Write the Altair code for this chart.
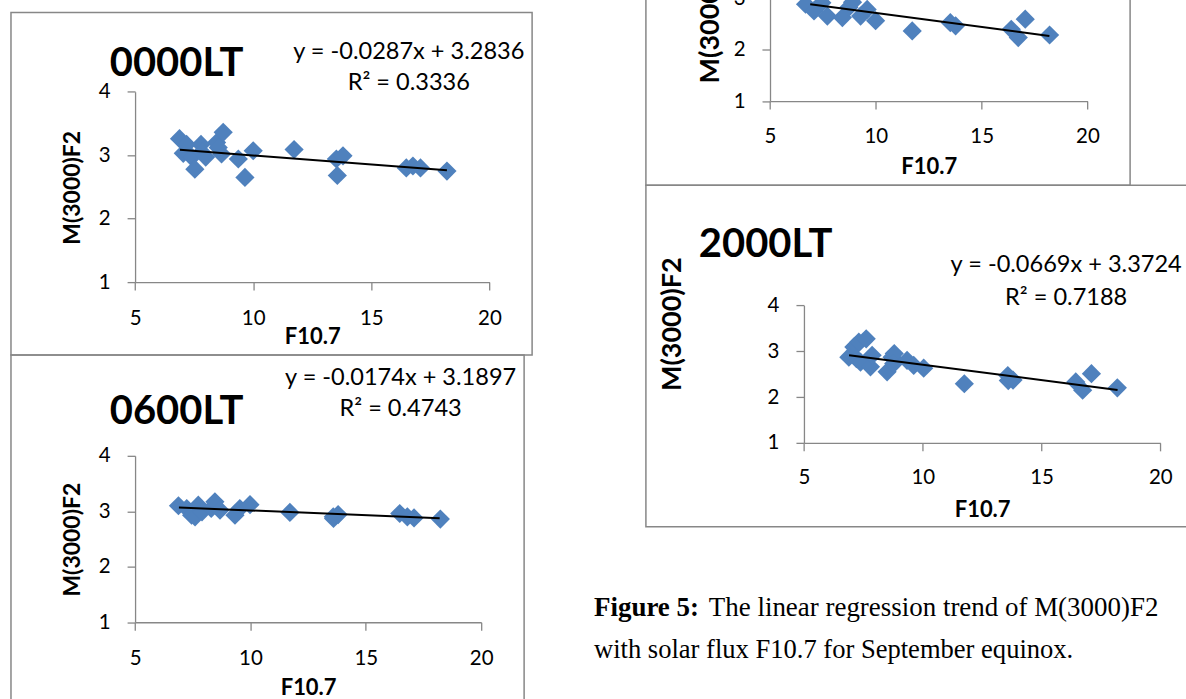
import altair as alt
import pandas as pd

# ---------------- data ----------------
# 0000LT
a_f107 = [6.88, 7.18, 7.04, 7.40, 7.53, 7.79, 7.82, 7.99, 8.45, 8.73, 8.66, 8.52,
          9.37, 9.65, 10.0, 11.73, 13.52, 13.80, 13.56, 16.48, 16.76, 17.08, 18.2]
a_m = [3.26, 3.17, 3.03, 2.97, 2.78, 3.17, 3.05, 2.97, 3.20, 3.36, 3.02, 3.12,
       2.94, 2.65, 3.07, 3.09, 2.94, 2.99, 2.68, 2.80, 2.83, 2.80, 2.75]
# 0600LT
b_f107 = [6.88, 7.24, 7.45, 7.60, 7.74, 7.90, 8.30, 8.46, 8.68, 9.33, 9.54, 9.98,
          11.71, 13.59, 13.60, 13.80, 16.47, 16.80, 17.09, 18.23]
b_m = [3.10, 3.05, 2.93, 2.90, 3.11, 2.99, 3.05, 3.17, 3.02, 2.93, 3.05, 3.12,
       2.98, 2.90, 2.87, 2.94, 2.96, 2.90, 2.88, 2.86]
# upper right panel (cut off at the top of the page)
c_f107 = [6.68, 7.08, 7.45, 7.71, 8.42, 8.73, 8.90, 9.28, 9.59, 9.99, 11.72,
          13.52, 13.77, 16.40, 16.73, 17.06, 18.21]
c_m = [2.89, 2.76, 2.92, 2.66, 2.63, 2.83, 2.93, 2.66, 2.79, 2.57, 2.37,
       2.53, 2.47, 2.40, 2.24, 2.60, 2.29]
# 2000LT
d_f107 = [6.89, 7.10, 7.20, 7.21, 7.31, 7.62, 7.38, 7.80, 7.87, 8.50, 8.71, 8.80,
          8.78, 9.34, 9.62, 10.04, 11.75, 13.58, 13.60, 13.80, 16.44, 16.73, 17.10, 18.19]
d_m = [2.87, 3.09, 3.13, 2.84, 3.20, 3.27, 2.76, 2.66, 2.91, 2.55, 2.87, 2.95,
       2.73, 2.80, 2.69, 2.63, 2.29, 2.47, 2.36, 2.37, 2.33, 2.15, 2.51, 2.20]

slopes = [-0.0287, -0.0174, -0.0547, -0.0669]
intercepts = [3.2836, 3.1897, 3.268, 3.3724]
trend_x = [6.9, 18.2]

titles = ["0000LT", "0600LT", "", "2000LT"]
equations = ["y = -0.0287x + 3.2836", "y = -0.0174x + 3.1897", "", "y = -0.0669x + 3.3724"]
r2_texts = ["R\u00b2 = 0.3336", "R\u00b2 = 0.4743", "", "R\u00b2 = 0.7188"]
x_ticks = [5, 10, 15, 20]
y_ticks = [1, 2, 3, 4]
x_title = "F10.7"
y_title = "M(3000)F2"
caption_bold = "Figure 5:"
caption_1 = "The linear regression trend of M(3000)F2"
caption_2 = "with solar flux F10.7 for September equinox."

BLUE = "#4F81BD"
GREY = "#878787"
FONT = "Lato"


def panel(i, xs, ys, w, h, xr, yr, lab_pad, xt_y, yt_x, yt_y, yt_size,
          title_xy=None, eq_xy=None):
    pts = pd.DataFrame({"F107": xs, "M": ys})
    ln = pd.DataFrame({"F107": trend_x})
    xs_ = alt.Scale(domain=[5, 20], range=xr, nice=False, zero=False)
    ys_ = alt.Scale(domain=[1, 4], range=yr, nice=False, zero=False)
    xax = alt.Axis(values=x_ticks, offset=yr[0] - h, grid=False,
                   labelPadding=lab_pad, labelBaseline="alphabetic",
                   labelFlush=False, labelOverlap=False,
                   labelFont=FONT, labelFontSize=20.5, labelColor="black",
                   domainColor=GREY, tickColor=GREY, domainWidth=1.3,
                   tickWidth=1.3, tickSize=8,
                   title=x_title, titleY=xt_y, titleBaseline="alphabetic",
                   titleFont=FONT, titleFontWeight="bold", titleColor="black",
                   titleFontSize=22)
    yax = alt.Axis(values=y_ticks, offset=-xr[0], grid=False,
                   labelPadding=17, labelFlush=False, labelOverlap=False,
                   labelFont=FONT, labelFontSize=20.5, labelColor="black",
                   domainColor=GREY, tickColor=GREY, domainWidth=1.3,
                   tickWidth=1.3, tickSize=8,
                   title=y_title, titleX=yt_x, titleY=yt_y, titleAngle=270,
                   titleAlign="center", titleBaseline="alphabetic",
                   titleFont=FONT, titleFontWeight="bold", titleColor="black",
                   titleFontSize=yt_size)
    enc = dict(x=alt.X("F107:Q", scale=xs_, axis=xax),
               y=alt.Y("M:Q", scale=ys_, axis=yax))
    points = alt.Chart(pts).mark_point(shape="diamond", filled=True, size=370,
                                       color=BLUE, opacity=1).encode(**enc)
    trend = alt.Chart(ln).transform_calculate(
        M=f"{slopes[i]} * datum.F107 + {intercepts[i]}"
    ).mark_line(color="black", strokeWidth=2).encode(**enc)
    layers = [points, trend]
    if title_xy is not None:
        layers.append(
            alt.Chart(pd.DataFrame({"t": [titles[i]]})).mark_text(
                align="left", baseline="alphabetic", font=FONT, fontWeight="bold",
                fontSize=40, color="black"
            ).encode(x=alt.value(title_xy[0]), y=alt.value(title_xy[1]), text="t:N"))
    if eq_xy is not None:
        for txt, yy in ((equations[i], eq_xy[1]), (r2_texts[i], eq_xy[2])):
            layers.append(
                alt.Chart(pd.DataFrame({"t": [txt]})).mark_text(
                    align="center", baseline="alphabetic", font=FONT,
                    fontSize=23.6, color="black"
                ).encode(x=alt.value(eq_xy[0]), y=alt.value(yy), text="t:N"))
    return alt.layer(*layers).properties(
        width=w, height=h, view=alt.ViewBackground(stroke=GREY, strokeWidth=1.5))


pA = panel(0, a_f107, a_m, 522, 343, [124.3, 479.3], [270, 79.3], 34.7, 61.7,
           -55.3, 175, 23, title_xy=(99, 63.3), eq_xy=(398.5, 46.7, 77.3))
pB = panel(1, b_f107, b_m, 514, 352, [124.3, 471], [267.7, 101], 34.6, 72.6,
           -55.3, 184.5, 23, title_xy=(99, 68.7), eq_xy=(390.3, 30.3, 61))
pC = panel(2, c_f107, c_m, 485, 358, [124.3, 442.3], [273.7, 119.7], 33.3, 73,
           -51.8, 188.5, 27)
pD = panel(3, d_f107, d_m, 560, 342, [158.3, 515.3], [258, 120.3], 32.7, 74,
           -123.8, 138.7, 27, title_xy=(53, 72), eq_xy=(421, 87, 119.7))

spacer = alt.Chart(pd.DataFrame({"a": [0]})).mark_point(opacity=0).encode(
    x=alt.value(0), y=alt.value(0)).properties(
    width=10, height=185, view=alt.ViewBackground(strokeWidth=0))

cap_font = "Liberation Serif"
cap = alt.layer(
    alt.Chart(pd.DataFrame({"t": [caption_bold]})).mark_text(
        align="left", baseline="alphabetic", font=cap_font, fontWeight="bold",
        fontSize=27, color="black").encode(x=alt.value(-52), y=alt.value(89), text="t:N"),
    alt.Chart(pd.DataFrame({"t": [caption_1]})).mark_text(
        align="left", baseline="alphabetic", font=cap_font,
        fontSize=27, color="black").encode(x=alt.value(63), y=alt.value(89), text="t:N"),
    alt.Chart(pd.DataFrame({"t": [caption_2]})).mark_text(
        align="left", baseline="alphabetic", font=cap_font,
        fontSize=26.6, color="black").encode(x=alt.value(-52), y=alt.value(132), text="t:N"),
).properties(width=10, height=150, view=alt.ViewBackground(strokeWidth=0))

left = alt.vconcat(spacer, pA, pB, spacing=0, bounds="flush")
right = alt.vconcat(pC, pD, cap, spacing=0, bounds="flush")

chart = alt.hconcat(left, right, spacing=61).properties(
    padding={"left": 8, "top": -176, "right": -20, "bottom": -7}
).configure_view(strokeWidth=0)

chart.save("out.html", embed_options={"renderer": "svg", "actions": False})
